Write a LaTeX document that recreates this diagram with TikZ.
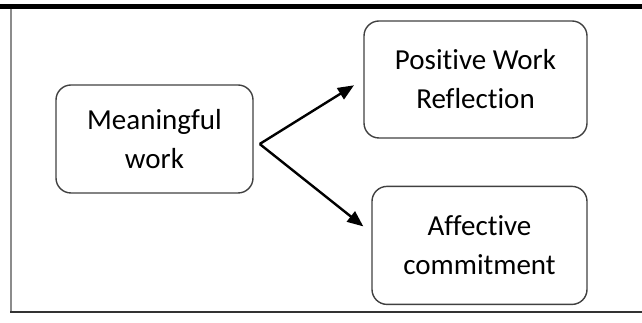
\documentclass[tikz,border=0pt]{standalone}
\usepackage{fontspec}
\setmainfont{Carlito}[Ligatures=NoCommon]
\usetikzlibrary{positioning,calc,arrows.meta}

\begin{document}
\begin{tikzpicture}[x=1pt, y=1pt, ->, >={Triangle[length=16pt, width=13pt]}, main/.style = {draw=black!75, rounded corners=15pt, line width=1.4pt, align=center, inner sep=0pt, font=\fontsize{29}{39}\selectfont}, every edge/.append style={line width=2.4pt}]

\useasboundingbox (0,0) rectangle (642,323);
% frame
\fill[black] (0,314) rectangle (642,319);
\draw[-, black!45, line width=1.2pt] (11,314) -- (11,10);
\draw[-, black!80, line width=2pt] (10.4,10.5) -- (642,10.5);

\node[main, minimum width=197pt, minimum height=108pt] (meaning) at (154.5,184) {Meaningful\\work};
\node[main, minimum width=223pt, minimum height=117pt] (pos) at (475.5,243.5) {Positive Work\\Reflection};
\node[main, minimum width=215pt, minimum height=118pt] (aff) [below=47pt of pos.south, xshift=4pt] {Affective\\commitment};

\coordinate (fork) at ($(meaning.east)+(6,-5)$);
\coordinate (afftip) at ($(aff.west)+(-8,19)$);

\path 
    (fork) edge[shorten >=11pt] (pos.west)
    (fork) edge (afftip);
\end{tikzpicture}
\end{document}
